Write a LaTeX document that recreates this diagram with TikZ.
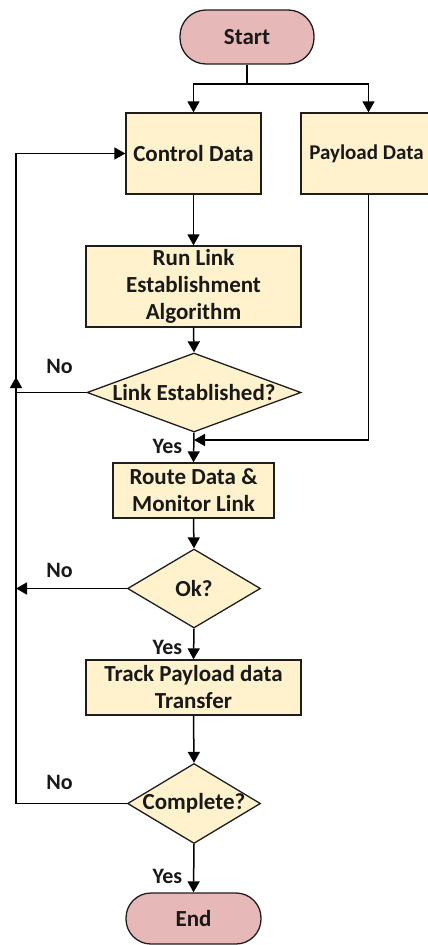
\documentclass[tikz,border=0pt]{standalone}
\usepackage{fontspec}
\setmainfont{Carlito}
\usetikzlibrary{arrows.meta,shapes.geometric}
\definecolor{pinkfill}{HTML}{E6B9B8}
\definecolor{creamfill}{HTML}{FFF2CC}
\definecolor{edge}{HTML}{1E1E1E}
\begin{document}
\begin{tikzpicture}[x=1pt,y=-1pt,
  every node/.style={font=\fontsize{23}{27}\selectfont\bfseries, text=black!90},
  term/.style={draw=edge, line width=1.3pt, fill=pinkfill, rectangle, rounded corners=26pt, inner sep=0pt},
  procbox/.style={draw=edge, line width=1.3pt, fill=creamfill, rectangle, inner sep=0pt, align=center},
  decision/.style={draw=edge, line width=1.3pt, fill=creamfill, diamond, inner sep=0pt},
  lbl/.style={inner sep=0pt, font=\fontsize{22}{25}\selectfont\bfseries},
  conn/.style={line width=1.5pt, draw=black},
  arr/.style={conn, -{Triangle[width=12pt,length=11pt]}}
]
\useasboundingbox (0,0) rectangle (428,945);
\begin{scope}
\clip (0,0) rectangle (428,945);
\node[term, minimum width=134pt, minimum height=54pt] (start) at (247,37) {Start};
\node[procbox, minimum width=135pt, minimum height=81pt] (ctrl) at (193.5,153.5) {Control Data};
\node[procbox, minimum width=135pt, minimum height=81pt, font=\fontsize{21}{25}\selectfont\bfseries] (pay) at (368.5,153.5) {Payload Data\hspace*{4pt}};
\node[procbox, minimum width=215pt, minimum height=81pt] (run) at (193.5,286.5) {Run Link\\Establishment\\Algorithm};
\node[decision, minimum width=214pt, minimum height=79pt] (d1) at (194,392.5) {\makebox[0pt]{Link Established?}};
\node[procbox, minimum width=161pt, minimum height=55pt] (route) at (193.5,490.5) {Route Data \&\\Monitor Link};
\node[decision, minimum width=133pt, minimum height=79pt] (d2) at (194,588.5) {\makebox[0pt]{Ok?}};
\node[procbox, minimum width=215pt, minimum height=55pt] (track) at (193.5,687.5) {Track Payload data\\Transfer};
\node[decision, minimum width=133pt, minimum height=80pt] (d3) at (194,803.5) {\makebox[0pt]{Complete?}};
\node[term, minimum width=135pt, minimum height=51pt, rounded corners=25pt] (end) at (193.5,918.5) {End};
\end{scope}

\coordinate (split) at (247,84);
\coordinate (join) at (194,440);
\coordinate (payturn) at (368.5,440);
\coordinate (okleft) at (16,588.5);
\coordinate (lnkleft) at (16,392.5);
\coordinate (midtip) at (16,377);
\coordinate (loopbot) at (16,803.5);
\coordinate (looptop) at (16,153.5);

\draw[conn] (start.south) -- (split);
\draw[arr] (split) -| (ctrl.north);
\draw[arr] (split) -| (pay.north);
\draw[arr] (ctrl.south) -- (run.north);
\draw[arr] (run.south) -- (d1.north);
\draw[arr] (d1.south) -- (route.north);
\draw[conn] (pay.south) -- (payturn);
\draw[arr] (payturn) -- (join);
\draw[conn] (d1.west) -- (lnkleft);
\draw[arr] (lnkleft) -- (midtip);
\draw[arr] (route.south) -- (d2.north);
\draw[arr] (d2.west) -- (okleft);
\draw[arr] (d2.south) -- (track.north);
\draw[arr] (track.south) -- (d3.north);
\draw[arr] (d3.west) -- (loopbot) -- (looptop) -- (ctrl.west);
\draw[arr] (d3.south) -- (end.north);

\node[lbl] (no1) at (59.5,366) {No};
\node[lbl] (no2) at (59.5,570) {No};
\node[lbl] (no3) at (59.5,782) {No};
\node[lbl] (yes1) at (167.5,446) {Yes};
\node[lbl] (yes2) at (167.5,647) {Yes};
\node[lbl] (yes3) at (167.5,876) {Yes};
\end{tikzpicture}
\end{document}
